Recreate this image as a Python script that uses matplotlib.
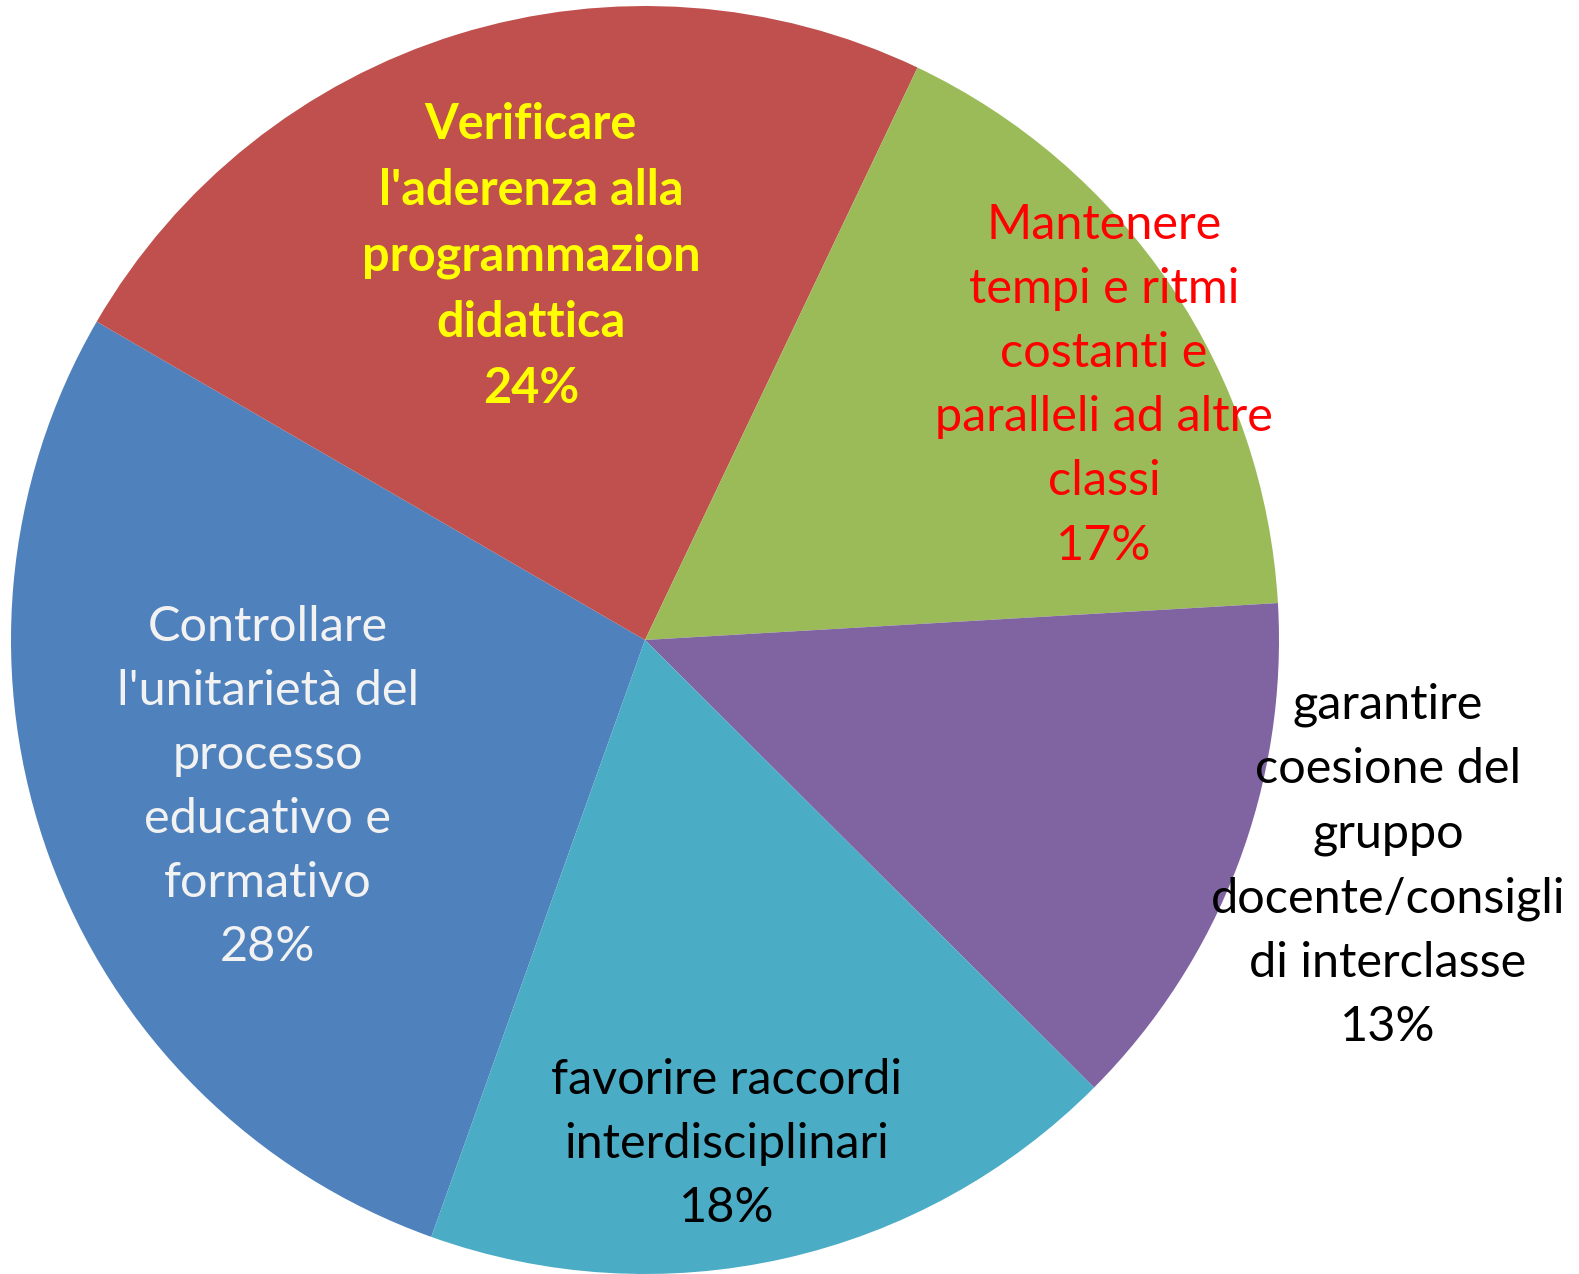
import matplotlib.pyplot as plt

# Dati (ordine delle serie come in Excel)
categorie = [
    "Controllare\nl'unitarietà del\nprocesso\neducativo e\nformativo",
    "Verificare\nl'aderenza alla\nprogrammazion\ndidattica",
    "Mantenere\ntempi e ritmi\ncostanti e\nparalleli ad altre\nclassi",
    "garantire\ncoesione del\ngruppo\ndocente/consigli\ndi interclasse",
    "favorire raccordi\ninterdisciplinari",
]
percentuali = [27.9, 23.7, 17.0, 13.4, 18.0]

colori = ['#4F81BD', '#C0504D', '#9BBB59', '#8064A2', '#4BACC6']
colori_testo = ['#F2F2F2', '#FFFF00', '#FF0000', '#000000', '#000000']
grassetto = [False, True, False, False, False]
# posizione etichette (unità del raggio)
pos_etichette = [(-0.595, -0.232), (-0.180, 0.605), (0.724, 0.402),
                 (1.172, -0.356), (0.129, -0.795)]

fig = plt.figure(figsize=(15.79, 12.74), dpi=100)
ax = fig.add_axes([0, 0, 1, 1])

ax.pie(percentuali, colors=colori, startangle=90 - 199.7, counterclock=False,
       radius=1.0, wedgeprops=dict(linewidth=0))

for nome, p, (x, y), c, b in zip(categorie, percentuali, pos_etichette,
                                 colori_testo, grassetto):
    ax.text(x, y, f"{nome}\n{round(p)}%", ha='center', va='center', color=c,
            fontsize=35, fontfamily='Lato', linespacing=1.56,
            fontweight='bold' if b else 'normal')

ax.set_xlim(-645 / 634, (1579 - 645) / 634)
ax.set_ylim(-(1274 - 640) / 634, 640 / 634)
ax.set_aspect('auto')
ax.axis('off')

fig.savefig('out.png', dpi=100)
